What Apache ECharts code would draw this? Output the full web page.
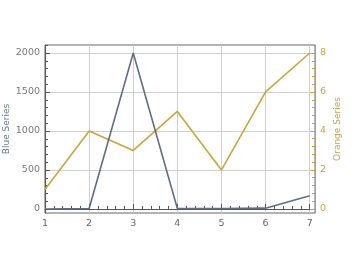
<!DOCTYPE html>
<html><head><meta charset="utf-8">
<script src="https://cdn.jsdelivr.net/npm/echarts@6/dist/echarts.min.js"></script>
<style>html,body{margin:0;padding:0;background:#fff}#c{width:360px;height:257px}</style>
</head><body><div id="c"></div>
<script>
const xValues = [1, 2, 3, 4, 5, 6, 7];
const blueValues = [0, 5, 2000, 5, 5, 10, 170];
const orangeValues = [1, 4, 3, 5, 2, 6, 8];
const xTicks = [1, 2, 3, 4, 5, 6, 7];
const blueTicks = [0, 500, 1000, 1500, 2000];
const orangeTicks = [0, 2, 4, 6, 8];

const xMinor = [], blueMinor = [], orangeMinor = [];
for (let i = 1; i < 7; i++) for (let k = 1; k < 5; k++) xMinor.push(+(i + k * 0.2).toFixed(2));
for (let v = 0; v <= 2100; v += 100) if (v % 500) blueMinor.push(v);
for (let v = 0; v <= 8.4; v += 0.4) { const r = +v.toFixed(1); if (Math.abs(r % 2) > 1e-6) orangeMinor.push(r); }

const gray = '#555', blue = '#5f6e85', gold = '#c9a63c';
const XR = [1, 7.12], BR = [-52, 2103], OR = [-0.21, 8.41];
const font = {fontFamily: 'DejaVu Sans', fontSize: 9.5};
const plain = v => String(v);

const chart = echarts.init(document.getElementById('c'), null, {renderer: 'canvas'});
chart.setOption({
  animation: false,
  grid: {left: 45, right: 45, top: 45, bottom: 44, show: true, borderColor: '#666', borderWidth: 1, containLabel: false, outerBoundsMode: 'none'},
  xAxis: [
    {type: 'value', min: XR[0], max: XR[1], position: 'bottom',
     axisLine: {show: true, lineStyle: {color: gray}},
     axisTick: {show: true, inside: true, length: 5, customValues: xTicks, lineStyle: {color: gray}},
     axisLabel: {customValues: xTicks, color: '#666', margin: 6, formatter: plain, ...font},
     splitLine: {show: true, lineStyle: {color: '#cfcfcf'}}},
    {type: 'value', min: XR[0], max: XR[1], position: 'bottom',
     axisLine: {show: false},
     axisTick: {show: true, inside: true, length: 3, customValues: xMinor, lineStyle: {color: gray}},
     axisLabel: {show: false}, splitLine: {show: false}}
  ],
  yAxis: [
    {type: 'value', min: BR[0], max: BR[1], position: 'left',
     name: 'Blue Series', nameLocation: 'middle', nameGap: 34, nameRotate: 90, nameMoveOverlap: false,
     nameTextStyle: {color: '#6a7a90', fontFamily: 'DejaVu Sans', fontSize: 9},
     axisLine: {show: true, lineStyle: {color: gray}},
     axisTick: {show: true, inside: true, length: 5, customValues: blueTicks, lineStyle: {color: gray}},
     axisLabel: {customValues: blueTicks, color: '#777', margin: 5, formatter: plain, ...font},
     splitLine: {show: true, lineStyle: {color: '#cfcfcf'}}},
    {type: 'value', min: OR[0], max: OR[1], position: 'right',
     name: 'Orange Series', nameLocation: 'middle', nameGap: 18, nameRotate: 90, nameMoveOverlap: false,
     nameTextStyle: {color: gold, fontFamily: 'DejaVu Sans', fontSize: 9},
     axisLine: {show: true, lineStyle: {color: gold}},
     axisTick: {show: true, inside: true, length: 5, customValues: orangeTicks, lineStyle: {color: gold}},
     axisLabel: {customValues: orangeTicks, color: gold, margin: 5, formatter: plain, ...font},
     splitLine: {show: false}},
    {type: 'value', min: BR[0], max: BR[1], position: 'left',
     axisLine: {show: false},
     axisTick: {show: true, inside: true, length: 3, customValues: blueMinor, lineStyle: {color: gray}},
     axisLabel: {show: false}, splitLine: {show: false}},
    {type: 'value', min: OR[0], max: OR[1], position: 'right',
     axisLine: {show: false},
     axisTick: {show: true, inside: true, length: 3, customValues: orangeMinor, lineStyle: {color: gold}},
     axisLabel: {show: false}, splitLine: {show: false}}
  ],
  series: [
    {type: 'line', xAxisIndex: 0, yAxisIndex: 1, data: xValues.map((x, i) => [x, orangeValues[i]]),
     showSymbol: false, lineStyle: {color: gold, width: 1.6}, itemStyle: {color: gold}},
    {type: 'line', xAxisIndex: 0, yAxisIndex: 0, data: xValues.map((x, i) => [x, blueValues[i]]),
     showSymbol: false, lineStyle: {color: blue, width: 1.6}, itemStyle: {color: blue}}
  ]
});
</script></body></html>
